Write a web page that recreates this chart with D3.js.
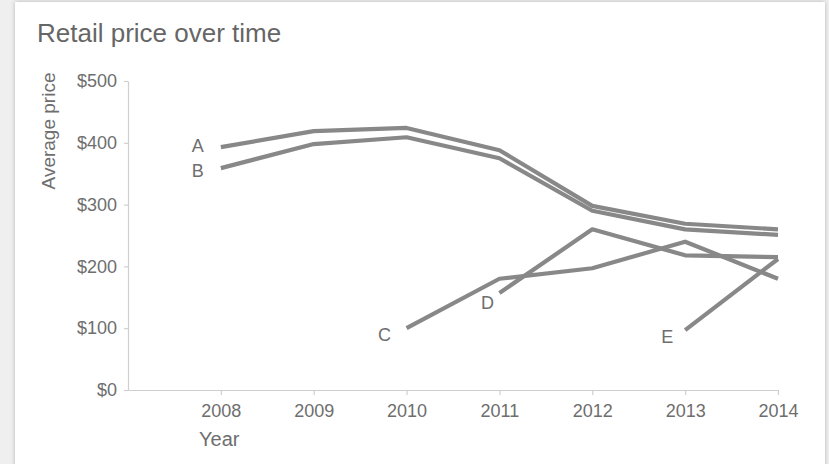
<!DOCTYPE html>
<html>
<head>
<meta charset="utf-8">
<script src="https://cdn.jsdelivr.net/npm/d3@7"></script>
<style>
  html, body { margin: 0; padding: 0; background: #efefef; }
  svg { display: block; font-family: "Liberation Sans", Arial, Helvetica, sans-serif; }
</style>
</head>
<body>
<svg id="chart" width="829" height="464"></svg>
<script>
// Average retail price per product, by year
const years = [2008, 2009, 2010, 2011, 2012, 2013, 2014];
const seriesNames = ["A", "B", "C", "D", "E"];
const seriesA = [393, 419, 424, 388, 298, 269, 260];
const seriesB = [359, 398, 409, 375, 290, 260, 251];
const seriesC = [null, null, 100, 180, 197, 240, 180];
const seriesD = [null, null, null, 157, 260, 218, 215];
const seriesE = [null, null, null, null, null, 97, 212];
const yTicks = [0, 100, 200, 300, 400, 500];

const seriesValues = [seriesA, seriesB, seriesC, seriesD, seriesE];

const svg = d3.select("#chart");

// card with soft shadow
const defs = svg.append("defs");
const f = defs.append("filter").attr("id", "shadow").attr("x", "-5%").attr("y", "-5%").attr("width", "110%").attr("height", "110%");
f.append("feDropShadow").attr("dx", 0).attr("dy", 0).attr("stdDeviation", 2).attr("flood-color", "#000").attr("flood-opacity", 0.25);
svg.append("rect").attr("x", 15).attr("y", 2).attr("width", 810).attr("height", 470)
  .attr("fill", "#fff").attr("filter", "url(#shadow)");

svg.append("text").attr("x", 37).attr("y", 42)
  .attr("font-size", 26).attr("fill", "#666").text("Retail price over time");

const x = d3.scaleLinear().domain([2007, 2014]).range([128, 778]);
const y = d3.scaleLinear().domain([0, 500]).range([390, 81]);

const axisColor = "#cfcfcf";
const textColor = "#6e6e6e";

// y axis
const yAxis = svg.append("g").attr("transform", "translate(128,0)")
  .call(d3.axisLeft(y).tickValues(yTicks).tickSize(4).tickSizeOuter(0).tickPadding(7).tickFormat(d => "$" + d));
// x axis
const xAxis = svg.append("g").attr("transform", "translate(0,390)")
  .call(d3.axisBottom(x).tickValues(years).tickSize(5).tickSizeOuter(0).tickPadding(9).tickFormat(d3.format("d")));

[yAxis, xAxis].forEach(g => {
  g.attr("font-size", 18).attr("font-family", "Liberation Sans, Arial, sans-serif");
  g.selectAll("path.domain").attr("stroke", axisColor).attr("stroke-width", 1.2);
  g.selectAll(".tick line").attr("stroke", axisColor).attr("stroke-width", 1.2);
  g.selectAll(".tick text").attr("fill", textColor);
});

svg.append("text").attr("x", 199).attr("y", 446).attr("font-size", 20)
  .attr("fill", textColor).text("Year");
svg.append("text").attr("transform", "translate(55,131) rotate(-90)")
  .attr("text-anchor", "middle").attr("font-size", 19).attr("fill", textColor)
  .text("Average price");

const line = d3.line()
  .defined(d => d.v != null)
  .x(d => x(d.year))
  .y(d => y(d.v));

const data = seriesNames.map((name, i) => ({
  name,
  points: years.map((yr, j) => ({ year: yr, v: seriesValues[i][j] }))
}));

svg.append("g").selectAll("path").data(data).join("path")
  .attr("d", d => line(d.points))
  .attr("fill", "none").attr("stroke", "#888").attr("stroke-width", 4.2)
  .attr("stroke-linejoin", "round");

// series labels next to each line's first point
const labelOffset = { A: [-23, 5], B: [-23, 9], C: [-22, 13], D: [-12, 16], E: [-18, 13] };
svg.append("g").selectAll("text").data(data).join("text")
  .attr("x", d => { const p = d.points.find(p => p.v != null); return x(p.year) + labelOffset[d.name][0]; })
  .attr("y", d => { const p = d.points.find(p => p.v != null); return y(p.v) + labelOffset[d.name][1]; })
  .attr("font-size", 18).attr("fill", textColor).attr("text-anchor", "middle")
  .text(d => d.name);
</script>
</body>
</html>
